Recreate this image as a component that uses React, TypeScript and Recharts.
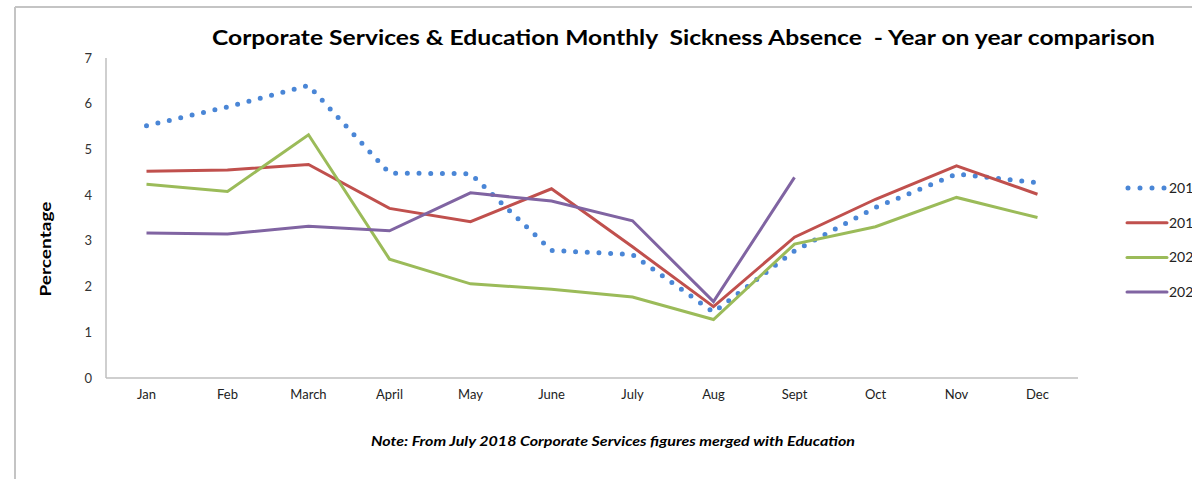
import React from 'react';
import { LineChart, Line, XAxis, YAxis, Legend } from 'recharts';

const months = ['Jan', 'Feb', 'March', 'April', 'May', 'June', 'July', 'Aug', 'Sept', 'Oct', 'Nov', 'Dec'];
const y2018 = [5.52, 5.93, 6.4, 4.48, 4.47, 2.79, 2.7, 1.44, 2.78, 3.73, 4.46, 4.27];
const y2019 = [4.52, 4.55, 4.67, 3.71, 3.42, 4.14, 2.87, 1.56, 3.08, 3.91, 4.64, 4.02];
const y2020 = [4.24, 4.08, 5.32, 2.6, 2.06, 1.94, 1.77, 1.28, 2.93, 3.31, 3.95, 3.51];
const y2021 = [3.17, 3.15, 3.32, 3.22, 4.05, 3.87, 3.44, 1.67, 4.39, null, null, null];
const seriesNames = ['2018', '2019', '2020', '2021'];
const yTicks = [0, 1, 2, 3, 4, 5, 6, 7];

const data = months.map((m, i) => ({
  month: m,
  s2018: y2018[i],
  s2019: y2019[i],
  s2020: y2020[i],
  s2021: y2021[i],
}));

const FONT = 'Lato, "Open Sans", sans-serif';

const LegendContent = (props: any) => {
  const items = props.payload || [];
  return (
    <svg width={80} height={140} style={{ display: 'block', overflow: 'visible' }}>
      {items.map((it: any, i: number) => {
        const cy = 14 + i * 34.7;
        const dotted = it.payload && it.payload.strokeDasharray;
        return (
          <g key={i}>
            {dotted ? (
              <line x1={8} x2={45} y1={cy} y2={cy} stroke={it.color} strokeWidth={5} strokeDasharray="0 12" strokeLinecap="round" />
            ) : (
              <line x1={7} x2={47} y1={cy} y2={cy} stroke={it.color} strokeWidth={3} strokeLinecap="round" />
            )}
            <text x={49} y={cy + 5} fontSize={14} fontFamily={FONT} fill="#222">{it.value}</text>
          </g>
        );
      })}
    </svg>
  );
};

export default function App() {
  return (
    <div style={{ position: 'absolute', left: 0, top: 0, width: 1192, height: 479, overflow: 'hidden', background: '#fff' }}>
      <LineChart
        width={1192}
        height={479}
        data={data}
        margin={{ top: 58, right: 114, bottom: 71, left: 66 }}
      >
        <XAxis
          dataKey="month"
          padding={{ left: 40.5, right: 40.5 }}
          axisLine={{ stroke: '#bfbfbf', strokeWidth: 1.5 }}
          tickLine={false}
          tickSize={0}
          tickMargin={12}
          height={30}
          tick={{ fontSize: 13, fill: '#222', fontFamily: FONT }}
          interval={0}
        />
        <YAxis
          domain={[0, 7]}
          ticks={yTicks}
          width={40}
          axisLine={{ stroke: '#bfbfbf', strokeWidth: 1.5 }}
          tickLine={false}
          tickSize={0}
          tickMargin={14}
          tick={{ fontSize: 13, fill: '#333', fontFamily: FONT }}
        />
        <Legend
          layout="horizontal"
          align="center"
          verticalAlign="middle"
          wrapperStyle={{ left: 1120, top: 174, width: 80 }}
          content={<LegendContent />}
        />
        <Line
          dataKey="s2018"
          name={seriesNames[0]}
          stroke="#4a86d6"
          strokeWidth={5}
          strokeDasharray="0 11.7"
          strokeLinecap="round"
          dot={false}
          activeDot={false}
          isAnimationActive={false}
        />
        <Line dataKey="s2019" name={seriesNames[1]} stroke="#c0504d" strokeWidth={3} dot={false} activeDot={false} isAnimationActive={false} />
        <Line dataKey="s2020" name={seriesNames[2]} stroke="#9bbb59" strokeWidth={3} dot={false} activeDot={false} isAnimationActive={false} />
        <Line dataKey="s2021" name={seriesNames[3]} stroke="#8064a2" strokeWidth={3} dot={false} activeDot={false} isAnimationActive={false} />
      </LineChart>
      <svg width={1192} height={479} style={{ position: 'absolute', left: 0, top: 0, pointerEvents: 'none' }}>
        <line x1={15} y1={7} x2={1192} y2={7} stroke="#c4c4c4" strokeWidth={2} />
        <line x1={15} y1={7} x2={15} y2={479} stroke="#c4c4c4" strokeWidth={2} />
        <text x={683.5} y={45} textAnchor="middle" fontSize={21} fontWeight="bold" fontFamily={FONT} fill="#000" textLength={943} lengthAdjust="spacingAndGlyphs" style={{ whiteSpace: 'pre' }}>
          {'Corporate Services & Education Monthly  Sickness Absence  - Year on year comparison'}
        </text>
        <text x={613} y={446} textAnchor="middle" fontSize={13} fontWeight="bold" fontStyle="italic" fontFamily={FONT} fill="#000" textLength={484} lengthAdjust="spacingAndGlyphs">
          Note: From July 2018 Corporate Services figures merged with Education
        </text>
        <text x={0} y={0} transform="translate(51,249) rotate(-90)" textAnchor="middle" fontSize={16} fontWeight="bold" fontFamily={FONT} fill="#000" textLength={95} lengthAdjust="spacingAndGlyphs">
          Percentage
        </text>
      </svg>
    </div>
  );
}
